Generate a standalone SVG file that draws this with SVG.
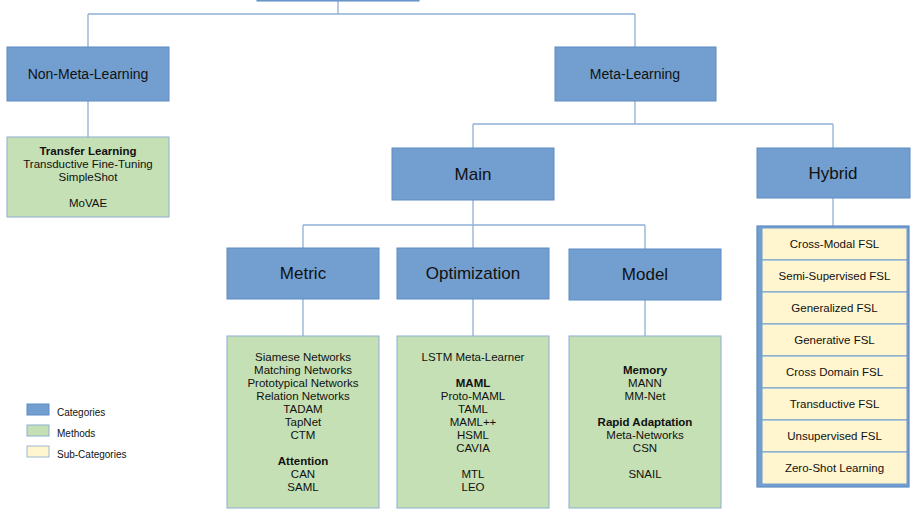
<svg xmlns="http://www.w3.org/2000/svg" width="918" height="517" viewBox="0 0 918 517">
<style>
.cat{fill:#729fcf;stroke:#5f8bc4;stroke-width:1}
.meth{fill:#c5e0b4;stroke:#8eaed3;stroke-width:1}
.sub{fill:#fff5ce;stroke:#6d9bd0;stroke-width:1}
.hyb{fill:#729fcf;stroke:#5f8bc4;stroke-width:1.2}
.conn{fill:none;stroke:#8fb0d6;stroke-width:1.3}
text{font-family:"Liberation Sans",Arial,sans-serif;fill:#111;text-anchor:middle}
.t14{font-size:14px}
.t17{font-size:17px}
.t11{font-size:11.5px}
.b{font-weight:bold}
.leg{font-size:10px;text-anchor:start}
</style>
<rect width="918" height="517" fill="#ffffff"/>
<g id="connectors">
<path class="conn" d="M338 1V14M88 14H635M88 14V47M635 14V47"/>
<path class="conn" d="M88 101V137"/>
<path class="conn" d="M635 101V124M473 124H833M473 124V148M833 124V148"/>
<path class="conn" d="M833 198V226"/>
<path class="conn" d="M473 200V225M303 225H645M303 225V248M473 225V248M645 225V249"/>
<path class="conn" d="M303 299V336M473 299V336M645 300V336"/>
</g>
<g id="root"><rect class="cat" x="257" y="-40" width="162" height="41"/></g>
<g id="non-meta"><rect class="cat" x="7" y="47" width="162" height="54"/><text class="t14" x="88" y="79">Non-Meta-Learning</text></g>
<g id="meta"><rect class="cat" x="555" y="47" width="161" height="54"/><text class="t14" x="635" y="79">Meta-Learning</text></g>
<g id="transfer"><rect class="meth" x="7" y="137" width="162" height="80"/>
<text class="t11 b" x="88" y="155">Transfer Learning</text>
<text class="t11" x="88" y="168">Transductive Fine-Tuning</text>
<text class="t11" x="88" y="181">SimpleShot</text>
<text class="t11" x="88" y="207">MoVAE</text></g>
<g id="main"><rect class="cat" x="392" y="148" width="162" height="52"/><text class="t17" x="473" y="180">Main</text></g>
<g id="hybrid"><rect class="cat" x="757" y="148" width="153" height="50"/><text class="t17" x="833" y="179">Hybrid</text></g>
<g id="metric"><rect class="cat" x="227" y="248" width="152" height="51"/><text class="t17" x="303" y="279">Metric</text></g>
<g id="optimization"><rect class="cat" x="397" y="248" width="152" height="51"/><text class="t17" x="473" y="279">Optimization</text></g>
<g id="model"><rect class="cat" x="569" y="249" width="152" height="51"/><text class="t17" x="645" y="280">Model</text></g>
<g id="metric-methods"><rect class="meth" x="227" y="336" width="152" height="172"/>
<text class="t11" x="303" y="361">Siamese Networks</text>
<text class="t11" x="303" y="374">Matching Networks</text>
<text class="t11" x="303" y="387">Prototypical Networks</text>
<text class="t11" x="303" y="400">Relation Networks</text>
<text class="t11" x="303" y="413">TADAM</text>
<text class="t11" x="303" y="426">TapNet</text>
<text class="t11" x="303" y="439">CTM</text>
<text class="t11 b" x="303" y="465">Attention</text>
<text class="t11" x="303" y="478">CAN</text>
<text class="t11" x="303" y="491">SAML</text></g>
<g id="optimization-methods"><rect class="meth" x="397" y="336" width="152" height="172"/>
<text class="t11" x="473" y="361">LSTM Meta-Learner</text>
<text class="t11 b" x="473" y="387">MAML</text>
<text class="t11" x="473" y="400">Proto-MAML</text>
<text class="t11" x="473" y="413">TAML</text>
<text class="t11" x="473" y="426">MAML++</text>
<text class="t11" x="473" y="439">HSML</text>
<text class="t11" x="473" y="452">CAVIA</text>
<text class="t11" x="473" y="478">MTL</text>
<text class="t11" x="473" y="491">LEO</text></g>
<g id="model-methods"><rect class="meth" x="569" y="336" width="152" height="172"/>
<text class="t11 b" x="645" y="374">Memory</text>
<text class="t11" x="645" y="387">MANN</text>
<text class="t11" x="645" y="400">MM-Net</text>
<text class="t11 b" x="645" y="426">Rapid Adaptation</text>
<text class="t11" x="645" y="439">Meta-Networks</text>
<text class="t11" x="645" y="452">CSN</text>
<text class="t11" x="645" y="478">SNAIL</text></g>
<g id="hybrid-list"><rect class="hyb" x="757" y="226" width="152" height="261"/>
<g id="cross-modal"><rect class="sub" x="762" y="228" width="145" height="32"/><text class="t11" x="834.5" y="248">Cross-Modal FSL</text></g>
<g id="semi-supervised"><rect class="sub" x="762" y="260" width="145" height="32"/><text class="t11" x="834.5" y="280">Semi-Supervised FSL</text></g>
<g id="generalized"><rect class="sub" x="762" y="292" width="145" height="32"/><text class="t11" x="834.5" y="312">Generalized FSL</text></g>
<g id="generative"><rect class="sub" x="762" y="324" width="145" height="32"/><text class="t11" x="834.5" y="344">Generative FSL</text></g>
<g id="cross-domain"><rect class="sub" x="762" y="356" width="145" height="32"/><text class="t11" x="834.5" y="376">Cross Domain FSL</text></g>
<g id="transductive"><rect class="sub" x="762" y="388" width="145" height="32"/><text class="t11" x="834.5" y="408">Transductive FSL</text></g>
<g id="unsupervised"><rect class="sub" x="762" y="420" width="145" height="32"/><text class="t11" x="834.5" y="440">Unsupervised FSL</text></g>
<g id="zero-shot"><rect class="sub" x="762" y="452" width="145" height="32"/><text class="t11" x="834.5" y="472">Zero-Shot Learning</text></g>
</g>
<g id="legend">
<rect class="cat" x="27" y="404" width="22" height="11"/><text class="leg" x="57" y="416">Categories</text>
<rect class="meth" x="27" y="425" width="22" height="11"/><text class="leg" x="57" y="437">Methods</text>
<rect class="sub" x="27" y="446" width="22" height="11" style="stroke:#9fb8d4"/><text class="leg" x="57" y="458">Sub-Categories</text>
</g>
</svg>
